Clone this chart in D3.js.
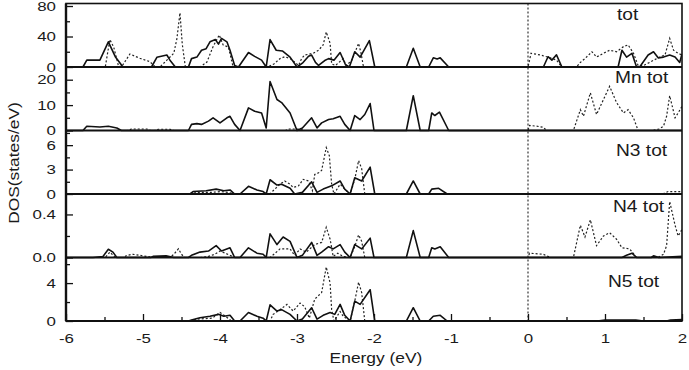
<!DOCTYPE html>
<html>
<head>
<meta charset="utf-8">
<script src="https://cdn.jsdelivr.net/npm/d3@7"></script>
<style>
  body { margin: 0; background: #fff; }
  text { font-family: "Liberation Sans", Arial, sans-serif; fill: #1a1a1a; }
</style>
</head>
<body>
<script>
// DOS curves: [energy (eV), states/eV]
// solid = spin up, dotted = spin down
var totUp = [[-6,0],[-5.78,0],[-5.73,9],[-5.56,9],[-5.45,33],[-5.36,13.5],[-5.26,0],
  [-4.89,0],[-4.82,12.7],[-4.69,15.7],[-4.65,9],[-4.58,0],
  [-4.41,0],[-4.37,11],[-4.30,13],[-4.24,22],[-4.18,24],[-4.13,33],[-4.06,36],[-4.02,30],[-3.98,37.6],[-3.91,33],[-3.87,22],[-3.81,2],[-3.76,0],
  [-3.63,19],[-3.55,14],[-3.46,9],[-3.40,0],[-3.35,36],[-3.27,22],[-3.19,21],[-3.09,13],[-3.00,0],
  [-2.93,5],[-2.85,14],[-2.81,15.7],[-2.76,6],[-2.72,2],[-2.64,8.5],[-2.59,11],[-2.52,9],[-2.44,19],[-2.37,3],[-2.32,0],
  [-2.25,20],[-2.18,13],[-2.06,34.5],[-1.99,0],
  [-1.58,0],[-1.49,24.5],[-1.40,0],
  [-1.29,0],[-1.23,12],[-1.18,10.5],[-1.14,12],[-1.03,0],
  [0.20,0],[0.26,13.5],[0.31,9],[0.37,16],[0.44,0],
  [1.17,0],[1.22,22],[1.28,13],[1.35,18],[1.41,0],
  [1.45,0],[1.56,15.7],[1.63,20],[1.69,12],[1.76,13],[1.84,15.7],[1.91,13],[1.97,6],[2.0,17]];
var totDn = [[-6,0],[-5.49,0],[-5.43,36],[-5.38,26],[-5.32,2],[-5.28,0],[-5.17,17],[-5.04,11.4],[-4.91,7],[-4.84,0],
  [-4.78,0],[-4.69,9],[-4.60,18],[-4.56,37],[-4.52,71],[-4.49,30],[-4.45,0],
  [-4.26,0],[-4.17,6.5],[-4.09,26.7],[-4.01,42],[-3.96,29],[-3.89,26],[-3.83,0],
  [-3.38,0],[-3.30,4],[-3.22,11],[-3.16,13.5],[-3.09,11],[-3.05,8],[-2.98,2],[-2.94,11],[-2.90,15.7],[-2.79,18],[-2.72,22],[-2.66,29],[-2.62,46],[-2.57,31],[-2.55,4],[-2.50,2],[-2.40,11],[-2.36,2],[-2.29,8.5],[-2.20,31],[-2.17,19],[-2.14,2],[-2.12,0],
  [0,0],[0.04,18],[0.16,15.7],[0.26,13],[0.37,9],[0.44,0],
  [0.63,0],[0.68,6],[0.74,11],[0.83,20],[0.89,13],[0.98,18],[1.06,22],[1.15,20],[1.24,26.7],[1.30,29],[1.37,18],[1.43,2],[1.50,2],[1.58,6],[1.67,11],[1.78,16],[1.84,37.6],[1.89,22],[1.95,18],[2.0,15.7]];

var mnUp = [[-6,0],[-5.78,0],[-5.73,1.7],[-5.56,1.4],[-5.45,1.7],[-5.34,1],[-5.28,0],
  [-4.41,0],[-4.37,2.4],[-4.30,2.7],[-4.24,2.4],[-4.15,3.7],[-4.09,5],[-4.0,3],[-3.91,5],[-3.87,5.6],[-3.81,2.4],[-3.74,0],
  [-3.63,8.9],[-3.55,7.6],[-3.46,6.9],[-3.40,1],[-3.35,19.3],[-3.26,12.2],[-3.20,11],[-3.09,6.9],[-3.00,0],
  [-2.93,1],[-2.81,5],[-2.74,1],[-2.68,3],[-2.59,4.3],[-2.53,4.6],[-2.44,5.6],[-2.38,2.4],[-2.31,0],[-2.25,5.9],[-2.18,4.3],[-2.12,6.3],[-2.05,10.6],[-2.0,0],
  [-1.58,0],[-1.49,13.7],[-1.40,0],
  [-1.29,0],[-1.25,6.9],[-1.21,5.9],[-1.15,7.2],[-1.03,0],[2,0]];
var mnDn = [[-6,0],[-5.2,0],[-5.15,0.6],[-4.95,0.6],[-4.9,0],[-4.85,0],[-4.80,0.5],[-4.65,0.5],[-4.6,0],
  [-3.15,0],[-3.1,0.6],[-2.95,0.6],[-2.9,0],
  [0,0],[0.02,2],[0.11,1.7],[0.20,1.3],[0.24,0],
  [0.59,0],[0.68,8.2],[0.72,5.6],[0.81,14.8],[0.89,6.3],[0.98,12.2],[1.06,17.4],[1.15,11],[1.24,6.9],[1.30,8.2],[1.37,5],[1.43,0],
  [1.62,0],[1.70,0.6],[1.76,1.7],[1.80,5.6],[1.84,13.7],[1.91,5],[1.95,6.9],[2.0,9.5]];

var n3Up = [[-6,0],[-4.39,0],[-4.35,0.3],[-4.18,0.4],[-4.05,0.6],[-3.95,0.4],[-3.87,0.5],[-3.81,0],[-3.74,0],
  [-3.63,0.94],[-3.52,0.5],[-3.44,0.3],[-3.40,0],[-3.35,1.75],[-3.26,1.1],[-3.20,1.2],[-3.09,0.7],[-3.03,0],
  [-2.93,0.2],[-2.81,1.5],[-2.74,0.2],[-2.66,0.6],[-2.55,1.0],[-2.44,1.6],[-2.38,0.6],[-2.31,0],[-2.25,2.0],[-2.16,1.6],[-2.05,3.3],[-1.99,0],
  [-1.58,0],[-1.49,1.6],[-1.40,0],[-1.29,0],[-1.25,0.6],[-1.16,0.7],[-1.05,0],[2,0]];
var n3Dn = [[-6,0],[-4.4,0],[-4.3,0.2],[-4.1,0.2],[-4.0,0.3],[-3.9,0.2],[-3.8,0],
  [-3.35,0],[-3.31,0.4],[-3.22,1.2],[-3.16,1.6],[-3.09,1.2],[-3.05,0.8],[-2.98,1.0],[-2.92,1.8],[-2.85,1.6],[-2.80,0.4],[-2.77,2.4],[-2.72,2.6],[-2.68,2.9],[-2.62,5.7],[-2.58,4.7],[-2.55,1.2],[-2.52,0],
  [-2.44,1.2],[-2.38,0.6],[-2.31,0],[-2.25,1.8],[-2.20,4.1],[-2.16,3.1],[-2.12,0],
  [1.75,0],[1.82,0.3],[2,0.3]];

var n4Up = [[-6,0],[-5.65,0],[-5.52,0.01],[-5.45,0.077],[-5.39,0.05],[-5.34,0],[-4.9,0],[-4.87,0.01],[-4.70,0.015],[-4.6,0],
  [-4.41,0],[-4.37,0.02],[-4.26,0.05],[-4.15,0.06],[-4.05,0.11],[-3.98,0.06],[-3.87,0.09],[-3.81,0],[-3.74,0],
  [-3.63,0.09],[-3.52,0.04],[-3.44,0.03],[-3.40,0],[-3.35,0.22],[-3.26,0.12],[-3.18,0.19],[-3.09,0.15],[-3.00,0],
  [-2.93,0.02],[-2.81,0.14],[-2.74,0.02],[-2.68,0.05],[-2.59,0.10],[-2.53,0.08],[-2.44,0.12],[-2.38,0.05],[-2.31,0],[-2.25,0.12],[-2.16,0.08],[-2.05,0.18],[-2.0,0],
  [-1.58,0],[-1.49,0.25],[-1.40,0],[-1.29,0],[-1.25,0.09],[-1.21,0.08],[-1.14,0.10],[-1.03,0],
  [1.22,0],[1.28,0.02],[1.35,0.04],[1.41,0],[1.60,0],[1.63,0.015],[1.70,0],[2,0.01]];
var n4Dn = [[-6,0],[-5.49,0],[-5.43,0.05],[-5.36,0],[-5.25,0],[-5.21,0.02],[-5.13,0.03],[-4.95,0.01],[-4.85,0],
  [-4.65,0],[-4.60,0.03],[-4.54,0.08],[-4.50,0.03],[-4.46,0],[-4.26,0],[-4.15,0.01],[-4.07,0.03],[-4.0,0.06],[-3.93,0.04],[-3.81,0],
  [-3.35,0],[-3.30,0.03],[-3.22,0.08],[-3.09,0.08],[-3.03,0.02],[-2.96,0.08],[-2.88,0.05],[-2.77,0.12],[-2.68,0.14],[-2.62,0.28],[-2.57,0.17],[-2.53,0.01],[-2.47,0.04],[-2.40,0.01],[-2.31,0],
  [-2.25,0.10],[-2.20,0.21],[-2.16,0.15],[-2.12,0],
  [0,0],[0.02,0.04],[0.20,0.03],[0.29,0],
  [0.59,0],[0.68,0.30],[0.74,0.19],[0.81,0.35],[0.89,0.11],[0.98,0.20],[1.06,0.23],[1.15,0.17],[1.22,0.09],[1.32,0.08],[1.41,0],
  [1.69,0],[1.76,0.03],[1.80,0.11],[1.84,0.52],[1.91,0.30],[1.95,0.20],[2.0,0.26]];

var n5Up = [[-6,0],[-4.41,0],[-4.37,0.1],[-4.26,0.35],[-4.13,0.5],[-4.02,0.7],[-3.95,0.5],[-3.87,0.6],[-3.81,0],[-3.74,0],
  [-3.63,0.9],[-3.52,0.5],[-3.44,0.3],[-3.40,0],[-3.35,1.7],[-3.26,1.05],[-3.20,1.2],[-3.09,0.7],[-3.00,0],
  [-2.93,0.2],[-2.81,1.4],[-2.74,0.2],[-2.66,0.6],[-2.57,0.9],[-2.51,0.7],[-2.44,1.75],[-2.38,0.6],[-2.31,0],[-2.25,2.1],[-2.18,1.75],[-2.05,3.3],[-1.99,0],
  [-1.58,0],[-1.49,1.4],[-1.40,0],[-1.29,0],[-1.23,0.5],[-1.14,0.6],[-1.05,0],
  [0.9,0],[1.0,0.1],[1.4,0.1],[1.5,0],[1.8,0],[1.85,0.1],[2,0.15]];
var n5Dn = [[-6,0],[-4.4,0],[-4.3,0.2],[-4.1,0.3],[-4.0,0.9],[-3.93,0.5],[-3.85,0],
  [-3.35,0],[-3.31,0.7],[-3.22,1.2],[-3.13,1.75],[-3.05,1.05],[-2.96,1.9],[-2.90,1.5],[-2.84,0.3],[-2.77,2.3],[-2.68,3.0],[-2.62,5.7],[-2.57,4.0],[-2.55,1.2],[-2.52,0],
  [-2.44,1.0],[-2.40,0.5],[-2.31,0],[-2.25,2.1],[-2.20,4.1],[-2.16,3.0],[-2.12,0],[2,0]];

// panel labels, y domains and tick values
var panelLabels = ["tot", "Mn tot", "N3 tot", "N4 tot", "N5 tot"];
var yMax = [83.3, 25, 7.8, 0.59, 6.7];
var yMajor = [[0, 40, 80], [0, 10, 20], [0, 3, 6], [0, 0.4], [0, 4]];
var yMinor = [[20, 60], [5, 15], [1.5, 4.5, 7.5], [0.2], [2, 6]];
var xMajor = [-6, -5, -4, -3, -2, -1, 0, 1, 2];
var xMinor = [-5.5, -4.5, -3.5, -2.5, -1.5, -0.5, 0.5, 1.5];

var upSeries = [totUp, mnUp, n3Up, n4Up, n5Up];
var dnSeries = [totDn, mnDn, n3Dn, n4Dn, n5Dn];

window.onload = function() {
  var width = 689, height = 370;
  var left = 66, right = 682, top = 3.5, bottom = 321;
  var panelH = (bottom - top) / 5;
  var sx = 1.2;     // glyphs in the picture are wider than Arial
  var tickSx = 1.3;

  var svg = d3.select("body").append("svg")
      .attr("width", width)
      .attr("height", height);

  svg.append("defs").append("clipPath").attr("id", "plot")
    .append("rect").attr("x", left).attr("y", top)
    .attr("width", right - left).attr("height", bottom - top);

  var xScale = d3.scaleLinear().domain([-6, 2]).range([left, right]);

  for (var p = 0; p < 5; p++) {
    var y0 = top + p * panelH, y1 = y0 + panelH;
    var yScale = d3.scaleLinear().domain([0, yMax[p]]).range([y1, y0]);
    var line = d3.line()
        .x(function(d) { return xScale(d[0]); })
        .y(function(d) { return yScale(d[1]); });

    var g = svg.append("g").attr("clip-path", "url(#plot)");
    g.append("path").datum(dnSeries[p])
      .attr("d", line).attr("fill", "none")
      .attr("stroke", "#222").attr("stroke-width", 1.2)
      .attr("stroke-dasharray", "2,2");
    g.append("path").datum(upSeries[p])
      .attr("d", line).attr("fill", "none")
      .attr("stroke", "#111").attr("stroke-width", 1.6)
      .attr("stroke-linejoin", "round");

    // y axis, ticks pointing inward
    var fmt = p == 3 ? function(d) { return d.toFixed(1); } : function(d) { return String(d); };
    var ax = svg.append("g")
        .attr("transform", "translate(" + left + ",0)")
        .call(d3.axisLeft(yScale).tickValues(yMajor[p]).tickSize(-7).tickPadding(10).tickFormat(fmt));
    ax.select(".domain").remove();
    ax.selectAll("line").attr("stroke", "#111").attr("stroke-width", 1.3);
    ax.selectAll("text")
      .attr("x", -10 / tickSx).attr("transform", "scale(" + tickSx + ",1)")
      .style("font-size", "13px").style("font-family", "Liberation Sans, Arial, sans-serif")
      .attr("fill", "#1a1a1a");

    var mx = svg.append("g")
        .attr("transform", "translate(" + left + ",0)")
        .call(d3.axisLeft(yScale).tickValues(yMinor[p]).tickSize(-4).tickFormat(""));
    mx.select(".domain").remove();
    mx.selectAll("line").attr("stroke", "#111").attr("stroke-width", 1.3);

    // panel separator / zero line
    svg.append("line")
      .attr("x1", left).attr("x2", right)
      .attr("y1", y1).attr("y2", y1)
      .attr("stroke", "#111").attr("stroke-width", 2);
  }

  // label positions
  var labelX = [617, 615, 616, 613, 608];
  var labelY = [20, 83, 156, 212, 287];
  panelLabels.forEach(function(t, i) {
    svg.append("text")
      .attr("transform", "translate(" + labelX[i] + "," + labelY[i] + ") scale(" + sx + ",1)")
      .style("font-size", "16px")
      .text(t);
  });

  // Fermi level
  svg.append("line")
    .attr("x1", xScale(0)).attr("x2", xScale(0))
    .attr("y1", top).attr("y2", bottom)
    .attr("stroke", "#222").attr("stroke-width", 1.1)
    .attr("stroke-dasharray", "2,2");

  // frame
  svg.append("rect")
    .attr("x", left).attr("y", top)
    .attr("width", right - left).attr("height", bottom - top)
    .attr("fill", "none").attr("stroke", "#111").attr("stroke-width", 1.6);
  svg.append("line")
    .attr("x1", left).attr("x2", left).attr("y1", top).attr("y2", bottom)
    .attr("stroke", "#111").attr("stroke-width", 2.4);

  // x axis on the bottom panel
  var xa = svg.append("g")
      .attr("transform", "translate(0," + bottom + ")")
      .call(d3.axisBottom(xScale).tickValues(xMajor).tickSize(-7).tickPadding(13)
        .tickFormat(function(d) { return String(d); }));
  xa.select(".domain").remove();
  xa.selectAll("line").attr("stroke", "#111").attr("stroke-width", 1.3);
  xa.selectAll("text")
    .attr("transform", "scale(" + tickSx + ",1)")
    .style("font-size", "13px").style("font-family", "Liberation Sans, Arial, sans-serif")
    .attr("fill", "#1a1a1a");
  var xm = svg.append("g")
      .attr("transform", "translate(0," + bottom + ")")
      .call(d3.axisBottom(xScale).tickValues(xMinor).tickSize(-4).tickFormat(""));
  xm.select(".domain").remove();
  xm.selectAll("line").attr("stroke", "#111").attr("stroke-width", 1.3);

  // axis titles
  svg.append("text")
    .attr("transform", "translate(376,363) scale(" + sx + ",1)")
    .attr("text-anchor", "middle")
    .style("font-size", "14.5px")
    .text("Energy (eV)");

  svg.append("text")
    .attr("transform", "translate(19,163) rotate(-90) scale(" + sx + ",1)")
    .attr("text-anchor", "middle")
    .style("font-size", "14.5px")
    .text("DOS(states/eV)");
};
</script>
</body>
</html>
